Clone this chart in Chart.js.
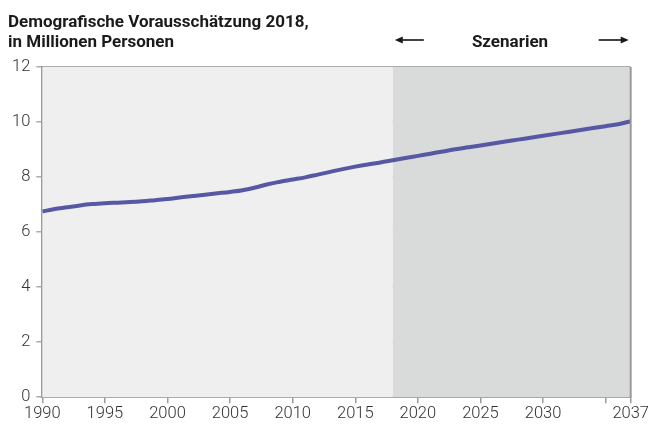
<!DOCTYPE html>
<html>
<head>
<meta charset="utf-8">
<script src="https://cdn.jsdelivr.net/npm/chart.js@4"></script>
<style>
  body { margin: 0; background: #fff; }
  #chart { display: block; }
</style>
</head>
<body>
<canvas id="chart" width="650" height="425"></canvas>
<script>
const years = [1990, 1991, 1992, 1993, 1994, 1995, 1996, 1997, 1998, 1999,
               2000, 2001, 2002, 2003, 2004, 2005, 2006, 2007, 2008, 2009,
               2010, 2011, 2012, 2013, 2014, 2015, 2016, 2017, 2018, 2019,
               2020, 2021, 2022, 2023, 2024, 2025, 2026, 2027, 2028, 2029,
               2030, 2031, 2032, 2033, 2034, 2035, 2036, 2037];
const persons = [6.75, 6.84, 6.90, 6.97, 7.02, 7.05, 7.07, 7.09, 7.12, 7.16,
                 7.20, 7.26, 7.31, 7.36, 7.41, 7.46, 7.52, 7.62, 7.74, 7.83,
                 7.91, 7.99, 8.09, 8.19, 8.29, 8.38, 8.46, 8.53, 8.61, 8.69,
                 8.77, 8.85, 8.93, 9.01, 9.08, 9.15, 9.22, 9.29, 9.36, 9.43,
                 9.50, 9.57, 9.64, 9.71, 9.78, 9.85, 9.92, 10.03];
const xTicks = [1990, 1995, 2000, 2005, 2010, 2015, 2020, 2025, 2030, 2035, 2037];
const hiddenXLabels = [2035];
const scenarioStart = 2018;
const titleLines = ['Demografische Vorausschätzung 2018,', 'in Millionen Personen'];
const scenarioLabel = 'Szenarien';

const FONT = 'Roboto, "Liberation Sans", sans-serif';

// background panels, frame, title and the scenario arrows
const decor = {
    id: 'decor',
    beforeDatasetsDraw(chart) {
        const { ctx, chartArea: a, scales: { x } } = chart;
        const split = x.getPixelForValue(scenarioStart);
        ctx.save();
        ctx.fillStyle = '#efefef';
        ctx.fillRect(a.left, a.top, split - a.left, a.bottom - a.top);
        ctx.fillStyle = '#d9dbdb';
        ctx.fillRect(split, a.top, a.right - split, a.bottom - a.top);
        ctx.restore();
    },
    afterDraw(chart) {
        const { ctx, chartArea: a, scales: { x } } = chart;
        const split = x.getPixelForValue(scenarioStart);
        ctx.save();
        // right frame line
        ctx.strokeStyle = '#9a9a9a';
        ctx.lineWidth = 2;
        ctx.beginPath();
        ctx.moveTo(a.right, a.top);
        ctx.lineTo(a.right, a.bottom);
        ctx.stroke();

        ctx.fillStyle = '#1a1a1a';
        ctx.font = 'bold 17px ' + FONT;
        ctx.textBaseline = 'alphabetic';
        ctx.textAlign = 'left';
        ctx.fillText(titleLines[0], 8, 27);
        ctx.fillText(titleLines[1], 8, 47);

        ctx.textAlign = 'center';
        ctx.fillText(scenarioLabel, 510, 47);

        // arrows
        ctx.strokeStyle = '#111';
        ctx.lineWidth = 1.6;
        const y = 40;
        const drawArrow = (x0, x1) => {
            const dir = Math.sign(x1 - x0);
            ctx.beginPath();
            ctx.moveTo(x0, y);
            ctx.lineTo(x1 - dir * 4, y);
            ctx.stroke();
            ctx.beginPath();
            ctx.moveTo(x1, y);
            ctx.lineTo(x1 - dir * 8, y - 3.5);
            ctx.lineTo(x1 - dir * 8, y + 3.5);
            ctx.closePath();
            ctx.fill();
        };
        drawArrow(split + 31, split + 2);
        drawArrow(a.right - 32, a.right - 2);
        ctx.restore();
    }
};

new Chart(document.getElementById('chart'), {
    type: 'line',
    data: {
        labels: years,
        datasets: [{
            data: years.map((yr, i) => ({ x: yr, y: persons[i] })),
            borderColor: '#5658a3',
            borderWidth: 4,
            pointRadius: 0,
            cubicInterpolationMode: 'monotone',
            fill: false
        }]
    },
    options: {
        responsive: false,
        animation: false,
        layout: { padding: { top: 67, left: 6, right: 6, bottom: 0 } },
        plugins: {
            legend: { display: false },
            tooltip: { enabled: false }
        },
        scales: {
            x: {
                type: 'linear',
                min: 1990,
                max: 2037,
                afterBuildTicks: axis => { axis.ticks = xTicks.map(v => ({ value: v })); },
                ticks: {
                    autoSkip: false,
                    maxRotation: 0,
                    color: '#333',
                    font: { family: FONT, size: 16.5, weight: 300 },
                    padding: 1,
                    callback: v => hiddenXLabels.includes(v) ? '' : String(v)
                },
                grid: { drawOnChartArea: false, color: '#9a9a9a', tickLength: 6, lineWidth: 1.5 },
                border: { color: '#9a9a9a', width: 2 }
            },
            y: {
                min: 0,
                max: 12,
                ticks: {
                    stepSize: 2,
                    color: '#333',
                    font: { family: FONT, size: 16.5, weight: 300 },
                    padding: 6
                },
                grid: { color: '#ababab', lineWidth: 1.5, tickLength: 6 },
                border: { color: '#9a9a9a', width: 2 }
            }
        }
    },
    plugins: [decor]
});
</script>
</body>
</html>
